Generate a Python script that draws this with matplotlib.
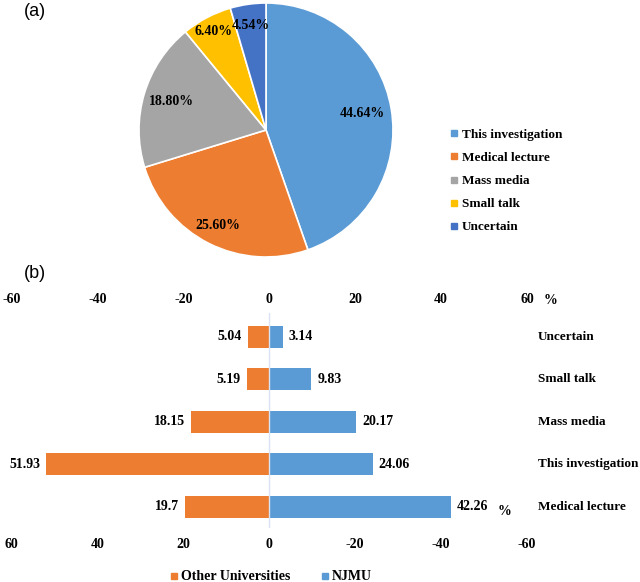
import numpy as np
import matplotlib.pyplot as plt
from matplotlib.lines import Line2D

# Panel (a): sources of knowledge, overall share (%)
pie_labels = ["This investigation", "Medical lecture", "Mass media", "Small talk", "Uncertain"]
pie_values = [44.64, 25.60, 18.80, 6.40, 4.54]
pie_colors = ["#5B9BD5", "#ED7D31", "#A5A5A5", "#FFC000", "#4472C4"]

# Panel (b): NJMU vs other universities (%)
categories = ["Medical lecture", "This investigation", "Mass media", "Small talk", "Uncertain"]
njmu = [42.26, 24.06, 20.17, 9.83, 3.14]
other = [19.7, 51.93, 18.15, 5.19, 5.04]
ticks = [-60, -40, -20, 0, 20, 40, 60]

serif = "Liberation Serif"
fs = 10
fs_cat = 9.5

fig = plt.figure(figsize=(6.4, 5.82), dpi=100)
W, H = 640, 582


def box(l, t, r, b):
    return [l / W, 1 - b / H, (r - l) / W, (b - t) / H]


# ---- (a) pie ----
ax1 = fig.add_axes(box(139, 3, 393, 257))
wedges, texts = ax1.pie(
    pie_values, colors=pie_colors, startangle=90, counterclock=False,
    wedgeprops=dict(edgecolor="white", linewidth=1.2),
)
label_r = [0.77, 0.84, 0.78, 0.88, 0.83]
for w, v, r in zip(wedges, pie_values, label_r):
    ang = np.deg2rad((w.theta1 + w.theta2) / 2)
    ax1.text(r * np.cos(ang), r * np.sin(ang), f"{v:.2f}%", ha="center", va="center",
             family=serif, weight="bold", fontsize=fs)
ax1.set_xlim(-1.0, 1.0)
ax1.set_ylim(-1.0, 1.0)
ax1.set_aspect("equal")

handles = [Line2D([], [], marker="s", linestyle="", color=c, markersize=4) for c in pie_colors]
fig.legend(handles, pie_labels, loc="center left", bbox_to_anchor=(438 / W, 1 - 181 / H),
           frameon=False, handlelength=0.6, handletextpad=0.3, labelspacing=0.82,
           prop=dict(family=serif, weight="bold", size=fs_cat))

fig.text(35 / W, 1 - 12 / H, "(a)", ha="center", va="center", fontsize=13, family="Liberation Sans")
fig.text(35 / W, 1 - 273 / H, "(b)", ha="center", va="center", fontsize=13, family="Liberation Sans")

# ---- (b) butterfly bars ----
ax2 = fig.add_axes(box(11.5, 313, 527, 528))
y = np.arange(len(categories))
ax2.barh(y, [-v for v in other], height=0.51, color="#ED7D31")
ax2.barh(y, njmu, height=0.51, color="#5B9BD5")
ax2.axvline(0, color="#DAE3F3", linewidth=1)
ax2.set_xlim(-60, 60)
ax2.set_ylim(-0.5, 4.56)
for s in ax2.spines.values():
    s.set_visible(False)
ax2.set_yticks([])

for yi, v in zip(y, other):
    ax2.annotate(f"{v:g}", (-v, yi), xytext=(-6, 0), textcoords="offset pixels",
                 ha="right", va="center", family=serif, weight="bold", fontsize=fs)
for yi, v in zip(y, njmu):
    ax2.annotate(f"{v:.2f}", (v, yi), xytext=(6, 0), textcoords="offset pixels",
                 ha="left", va="center", family=serif, weight="bold", fontsize=fs)
for yi, c in zip(y, categories):
    ax2.text(62.6, yi, c, ha="left", va="center", family=serif, weight="bold",
             fontsize=fs_cat, clip_on=False)

# top axis: -60 .. 60, bottom axis: reversed labels
ax2.set_xticks(ticks)
ax2.set_xticklabels([f"{-t}" for t in ticks])
ax2.tick_params(axis="x", length=0, pad=7)
top = ax2.secondary_xaxis("top")
top.set_xticks(ticks)
top.set_xticklabels([f"{t}" for t in ticks])
top.tick_params(length=0, pad=5)
for s in top.spines.values():
    s.set_visible(False)
for lab in ax2.get_xticklabels() + top.get_xticklabels():
    lab.set_family(serif)
    lab.set_weight("bold")
    lab.set_fontsize(fs)

ax2.annotate("%", (65.5, 1), xycoords=("data", "axes fraction"), xytext=(0, 13),
             textcoords="offset pixels", ha="center", va="center",
             family=serif, weight="bold", fontsize=fs, annotation_clip=False)
ax2.annotate("%", (njmu[0], 0), xytext=(54, -5), textcoords="offset pixels",
             ha="center", va="center", family=serif, weight="bold", fontsize=fs)

handles2 = [Line2D([], [], marker="s", linestyle="", color=c, markersize=4.5)
            for c in ["#ED7D31", "#5B9BD5"]]
fig.legend(handles2, ["Other Universities", "NJMU"], loc="center",
           bbox_to_anchor=(271 / W, 1 - 577 / H), ncol=2, frameon=False,
           handlelength=0.6, handletextpad=0.2, columnspacing=2.2,
           prop=dict(family=serif, weight="bold", size=fs))

fig.savefig("out.png", dpi=100)
